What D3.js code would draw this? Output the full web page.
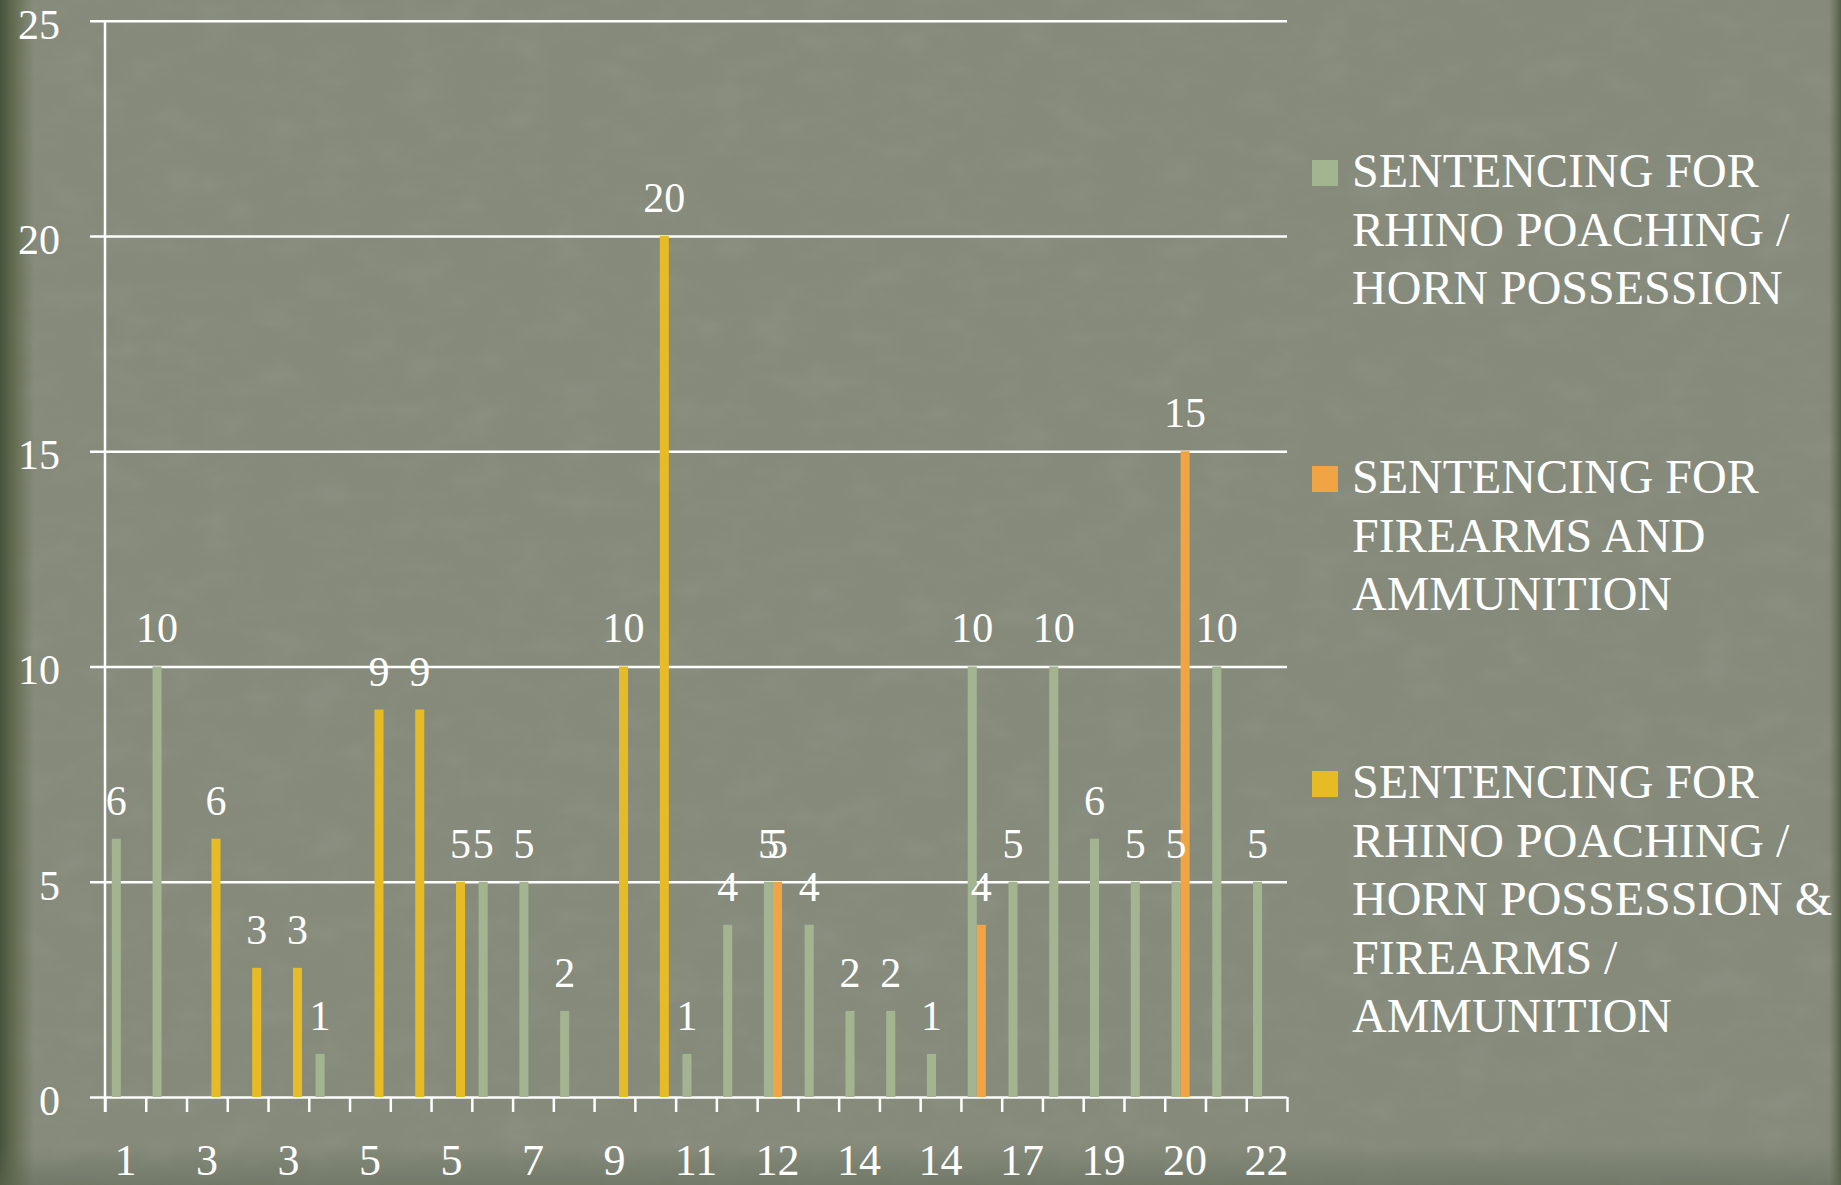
<!DOCTYPE html>
<html>
<head>
<meta charset="utf-8">
<script src="https://cdn.jsdelivr.net/npm/d3@7"></script>
<style>
  html, body { margin: 0; padding: 0; background: #858a7b; overflow: hidden; }
  text { font-family: "Liberation Serif", "DejaVu Serif", serif; fill: #ffffff; }
</style>
</head>
<body>
<div id="chart"></div>
<script>
// categories (only every other label is shown on the axis)
var categories = ["1","2","3","3","3","4","5","5","5","6","7","8","9","10","11",
                  "11","12","13","14","14","14","16","17","18","19","19","20","21","22"];

// series values, null = no bar
var rhinoHorn = [6,10,null,null,null,1,null,null,null,5,5,2,null,null,1,
                 4,5,4,2,2,1,10,5,10,6,5,5,10,5];
var firearms  = [null,null,null,null,null,null,null,null,null,null,null,null,null,null,null,
                 null,5,null,null,null,null,4,null,null,null,null,15,null,null];
var combined  = [null,null,6,3,3,null,9,9,5,null,null,null,10,20,null,
                 null,null,null,null,null,null,null,null,null,null,null,null,null,null];

var seriesNames = [
  ["SENTENCING FOR", "RHINO POACHING /", "HORN POSSESSION"],
  ["SENTENCING FOR", "FIREARMS AND", "AMMUNITION"],
  ["SENTENCING FOR", "RHINO POACHING /", "HORN POSSESSION &", "FIREARMS /", "AMMUNITION"]
];
var seriesColors = ["#a3b490", "#f1a444", "#e6bb26"];
var yTicks = [0, 5, 10, 15, 20, 25];

var W = 1841, H = 1185;
var margin = {top: 20.7, left: 105},
    width = 1287 - margin.left,
    height = 1097 - margin.top;

var svg = d3.select("#chart").append("svg")
    .attr("width", W)
    .attr("height", H);

// background and a bit of texture
var defs = svg.append("defs");
var edge = defs.append("linearGradient").attr("id", "edgeL").attr("x1", 0).attr("x2", 1);
edge.append("stop").attr("offset", 0).attr("stop-color", "#47523b").attr("stop-opacity", 1);
edge.append("stop").attr("offset", 0.5).attr("stop-color", "#56613f").attr("stop-opacity", 0.6);
edge.append("stop").attr("offset", 1).attr("stop-color", "#5a6448").attr("stop-opacity", 0);
var edgeR = defs.append("linearGradient").attr("id", "edgeR").attr("x1", 1).attr("x2", 0);
edgeR.append("stop").attr("offset", 0).attr("stop-color", "#4f5943").attr("stop-opacity", 0.9);
edgeR.append("stop").attr("offset", 1).attr("stop-color", "#5a6448").attr("stop-opacity", 0);
var edgeB = defs.append("linearGradient").attr("id", "edgeB").attr("x1", 0).attr("x2", 0).attr("y1", 0).attr("y2", 1);
edgeB.append("stop").attr("offset", 0).attr("stop-color", "#5f6854").attr("stop-opacity", 0);
edgeB.append("stop").attr("offset", 1).attr("stop-color", "#5f6854").attr("stop-opacity", 0.5);

var noise = defs.append("filter").attr("id", "grain").attr("x", 0).attr("y", 0).attr("width", "100%").attr("height", "100%");
noise.append("feTurbulence").attr("type", "fractalNoise").attr("baseFrequency", "0.02 0.035").attr("numOctaves", 3).attr("seed", 4);
noise.append("feColorMatrix").attr("type", "matrix")
    .attr("values", "0 0 0 0 0.33  0 0 0 0 0.36  0 0 0 0 0.30  0 0 0 -1.3 0.75");

svg.append("rect").attr("width", W).attr("height", H).attr("fill", "#858a7b");
svg.append("rect").attr("width", W).attr("height", H).attr("filter", "url(#grain)").attr("opacity", 0.35);
svg.append("rect").attr("width", 34).attr("height", H).attr("fill", "url(#edgeL)");
svg.append("rect").attr("x", W - 12).attr("width", 12).attr("height", H).attr("fill", "url(#edgeR)");
svg.append("rect").attr("y", H - 40).attr("width", W).attr("height", 40).attr("fill", "url(#edgeB)");

var g = svg.append("g").attr("transform", "translate(" + margin.left + "," + margin.top + ")");

// scales
var x0 = d3.scaleBand().domain(d3.range(categories.length)).range([0, width]).padding(0);
var x1 = d3.scaleBand().domain([0, 1, 2]).range([0, x0.bandwidth()]).paddingInner(0).paddingOuter(0.75);
var y = d3.scaleLinear().domain([0, 25]).range([height, 0]);
var xEdge = d3.scaleLinear().domain([0, categories.length]).range([0, width]);

// gridlines
g.append("g")
    .call(d3.axisLeft(y).tickValues(yTicks).tickSize(-(width + 15)).tickFormat(""))
    .attr("transform", "translate(" + width + ",0)")
    .call(function(a) {
        a.select(".domain").remove();
        a.selectAll(".tick line").attr("stroke", "#fff").attr("stroke-width", 2.5)
            .attr("x1", -(width + 15)).attr("x2", 0);
    });

// y labels
g.append("g").selectAll("text").data(yTicks).enter().append("text")
    .attr("x", -45)
    .attr("y", function(d) { return y(d) + 18; })
    .attr("text-anchor", "end")
    .style("font-size", "42px")
    .text(function(d) { return d; });

// y axis line
g.append("line").attr("x1", 0).attr("x2", 0).attr("y1", 0).attr("y2", height + 15)
    .attr("stroke", "#fff").attr("stroke-width", 2.5);

// category boundary ticks
g.append("g")
    .attr("transform", "translate(0," + height + ")")
    .call(d3.axisBottom(xEdge).tickValues(d3.range(categories.length + 1)).tickSize(15).tickFormat(""))
    .call(function(a) {
        a.select(".domain").remove();
        a.selectAll(".tick line").attr("stroke", "#fff").attr("stroke-width", 2.5);
    });

// category labels (every other one)
g.append("g").selectAll("text")
    .data(d3.range(0, categories.length, 2)).enter().append("text")
    .attr("x", function(i) { return x0(i) + x0.bandwidth() / 2; })
    .attr("y", 1175 - margin.top)
    .attr("text-anchor", "middle")
    .style("font-size", "44px")
    .text(function(i) { return categories[i]; });

// bars
var allSeries = [rhinoHorn, firearms, combined];
var bars = [];
allSeries.forEach(function(vals, s) {
    vals.forEach(function(v, i) {
        if (v !== null) bars.push({s: s, i: i, v: v});
    });
});

g.append("g").selectAll("rect").data(bars).enter().append("rect")
    .attr("x", function(d) { return x0(d.i) + x1(d.s); })
    .attr("width", x1.bandwidth())
    .attr("y", function(d) { return y(d.v); })
    .attr("height", function(d) { return height - y(d.v); })
    .attr("fill", function(d) { return seriesColors[d.s]; });

g.append("g").selectAll("text").data(bars).enter().append("text")
    .attr("x", function(d) { return x0(d.i) + x1(d.s) + x1.bandwidth() / 2; })
    .attr("y", function(d) { return y(d.v) - 24; })
    .attr("text-anchor", "middle")
    .style("font-size", "42px")
    .text(function(d) { return d.v; });

// legend
var legendTop = [160, 466, 771];
var legend = svg.append("g").selectAll("g").data(seriesNames).enter().append("g")
    .attr("transform", function(d, i) { return "translate(1312," + legendTop[i] + ")"; });
legend.append("rect").attr("width", 26).attr("height", 26)
    .attr("fill", function(d, i) { return seriesColors[i]; });
legend.append("text")
    .style("font-size", "48px")
    .selectAll("tspan").data(function(d) { return d; }).enter().append("tspan")
    .attr("x", 40)
    .attr("y", function(d, j) { return 27 + j * 58.5; })
    .text(function(d) { return d; });
</script>
</body>
</html>
